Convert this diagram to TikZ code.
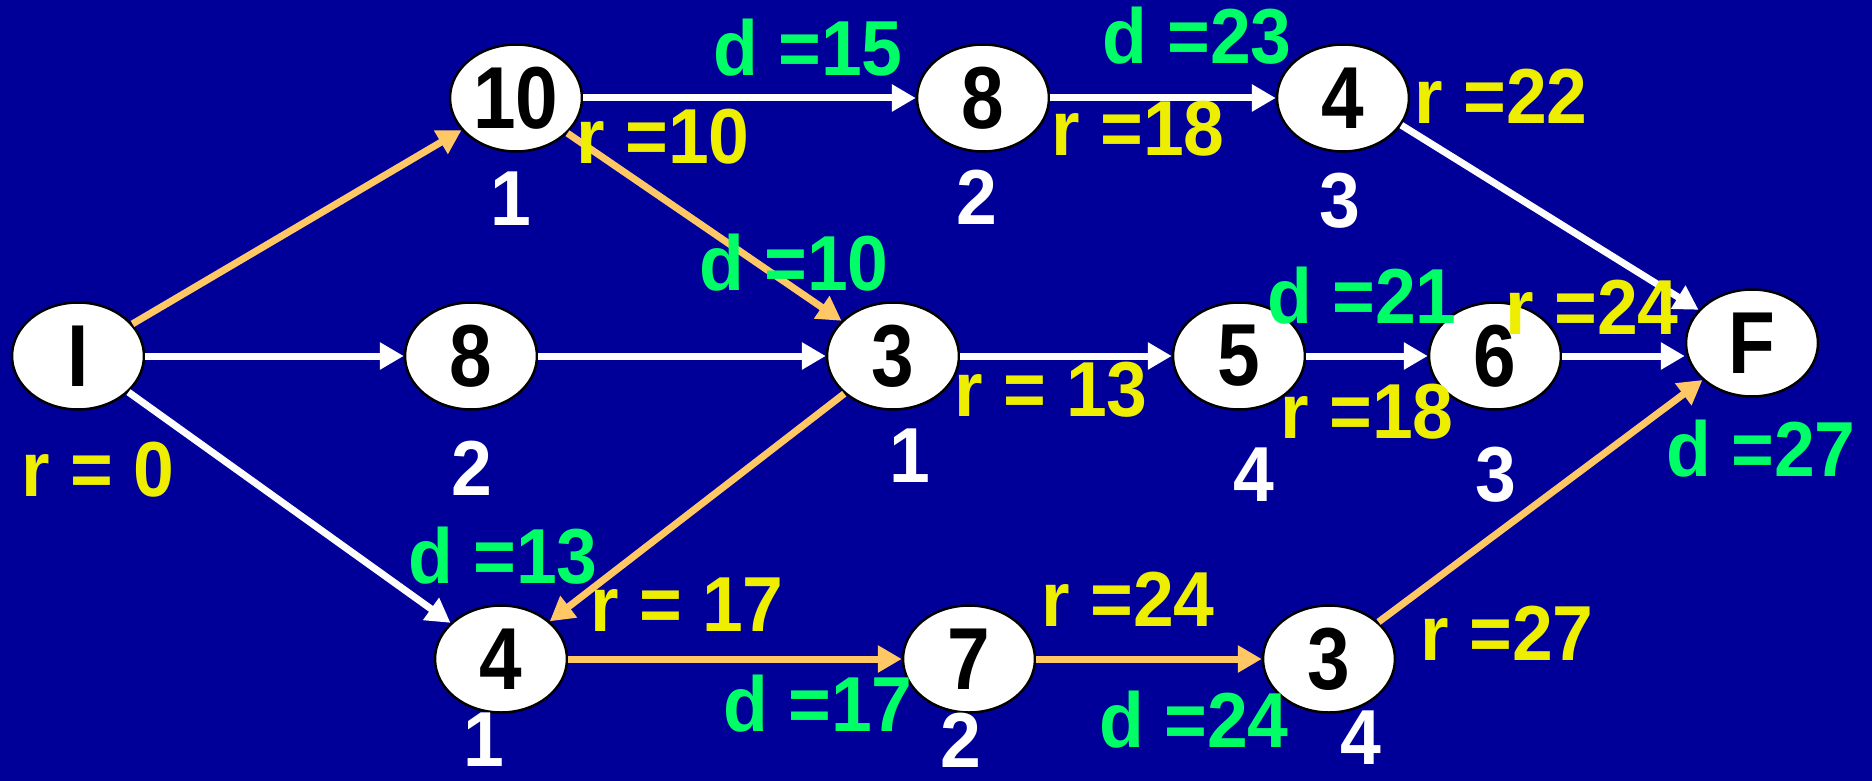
\documentclass[tikz,border=0pt]{standalone}
\usepackage{fontspec}
\setmainfont{Liberation Sans}[FakeStretch=0.94]
\newfontfamily\nodefont{Liberation Sans}[FakeStretch=0.87]
\usetikzlibrary{shapes.geometric,arrows.meta}
\definecolor{bg}{RGB}{0,0,153}
\definecolor{grn}{RGB}{0,255,102}
\definecolor{ylw}{RGB}{238,238,0}
\definecolor{org}{RGB}{255,200,100}
\begin{document}
\begin{tikzpicture}[x=1pt,y=-1pt,
 nd/.style={ellipse, draw=black, line width=2.5pt, fill=white, minimum width=132pt, minimum height=107pt, inner sep=0pt, font=\nodefont\fontsize{88}{88}\selectfont\bfseries, text=black},
 lb/.style={inner sep=0pt, font=\fontsize{78}{78}\selectfont\bfseries},
 rl/.style={lb, text=ylw},
 dl/.style={lb, text=grn},
 wl/.style={lb, text=white},
 wa/.style={draw=white, line width=7pt, -{Triangle[length=24pt,width=26pt]}},
 oa/.style={wa, draw=org}]
\useasboundingbox (0,0) rectangle (1872,781);
\fill[bg] (0,0) rectangle (1872,781);
% nodes
\node[nd] (I) at (78,356) {I};
\node[nd] (n10) at (516,98) {10};
\node[nd] (n8t) at (983,98) {8};
\node[nd] (n4t) at (1343,98) {4};
\node[nd] (n8m) at (471,356) {8};
\node[nd] (n3m) at (893,356) {3};
\node[nd] (n5) at (1239,356) {5};
\node[nd] (n6) at (1495,356) {6};
\node[nd] (F) at (1752,343) {F};
\node[nd] (n4b) at (501,659) {4};
\node[nd] (n7) at (969,659) {7};
\node[nd] (n3b) at (1329,659) {3};
% connectors
\draw[oa] (I) -- (n10);
\draw[wa] (I) -- (n8m);
\draw[wa] (I) -- (n4b);
\draw[wa] (n10) -- (n8t);
\draw[oa] (n10) -- (n3m);
\draw[wa] (n8t) -- (n4t);
\draw[wa] (n4t.-25) -- (F);
\draw[wa] (n8m) -- (n3m);
\draw[wa] (n3m) -- (n5);
\draw[wa] (n5) -- (n6);
\draw[wa] (n6) -- (n6 -| F.west);
\draw[oa] (n3m) -- (n4b);
\draw[oa] (n4b) -- (n7);
\draw[oa] (n7) -- (n3b);
\draw[oa] (n3b) -- (F);
% labels
\node[wl] (w1) at (511,199) {1};
\node[rl] (r10) at (663,137) {r =10};
\node[dl] (d15) at (808,48) {d =15};
\node[dl] (d23) at (1197,36) {d =23};
\node[rl] (r18a) at (1138,129) {r =18};
\node[wl] (w2a) at (977,197) {2};
\node[rl] (r22) at (1501,96) {r =22};
\node[wl] (w3a) at (1340,201) {3};
\node[dl] (d10) at (794,263) {d =10};
\node[dl] (d21) at (1362,296) {d =21};
\node[rl] (r24a) at (1592,307) {r =24};
\node[rl] (r13) at (1051,390) {r = 13};
\node[rl] (r18b) at (1367,412) {r =18};
\node[wl] (w1b) at (910,456) {1};
\node[wl] (w4a) at (1254,475) {4};
\node[wl] (w3b) at (1496,475) {3};
\node[dl] (d27) at (1761,449) {d =27};
\node[wl] (w2b) at (472,468) {2};
\node[rl] (r0) at (98,470) {r = 0};
\node[dl] (d13) at (503,556) {d =13};
\node[rl] (r17) at (687,605) {r = 17};
\node[rl] (r24b) at (1128,599) {r =24};
\node[rl] (r27) at (1507,633) {r =27};
\node[dl] (d17) at (818,704) {d =17};
\node[dl] (d24) at (1194,720) {d =24};
\node[wl] (w1c) at (484,740) {1};
\node[wl] (w2c) at (961,740) {2};
\node[wl] (w4b) at (1361,738) {4};
\end{tikzpicture}
\end{document}
